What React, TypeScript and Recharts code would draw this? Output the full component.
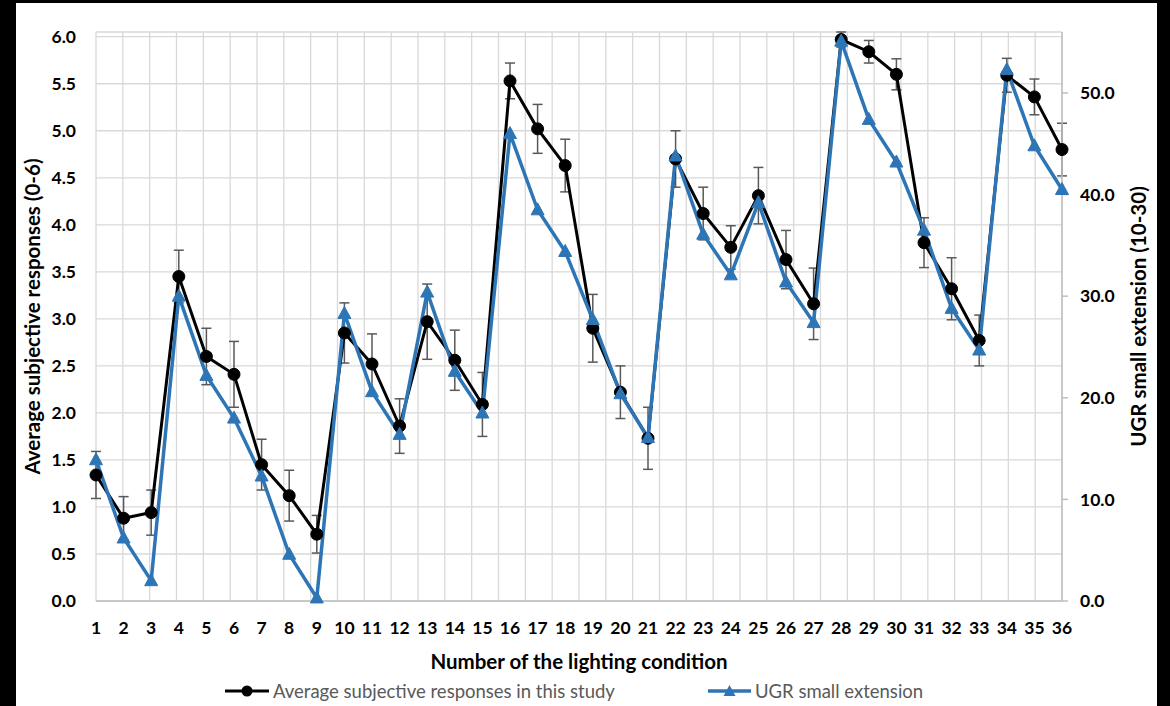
import React from "react";
import { ComposedChart, Line, XAxis, YAxis, CartesianGrid, ErrorBar, Legend } from "recharts";

// lighting conditions 1..36
const conditions = [
  "1", "2", "3", "4", "5", "6", "7", "8", "9", "10", "11", "12",
  "13", "14", "15", "16", "17", "18", "19", "20", "21", "22", "23", "24",
  "25", "26", "27", "28", "29", "30", "31", "32", "33", "34", "35", "36",
];
// average subjective responses (0-6), left axis
const subjective = [
  1.34, 0.88, 0.94, 3.45, 2.6, 2.41, 1.45, 1.12, 0.71, 2.85, 2.52, 1.86,
  2.97, 2.56, 2.09, 5.53, 5.02, 4.63, 2.9, 2.22, 1.73, 4.7, 4.12, 3.76,
  4.31, 3.63, 3.16, 5.97, 5.84, 5.6, 3.81, 3.32, 2.77, 5.59, 5.36, 4.8,
];
const subjectiveErr = [
  0.25, 0.23, 0.24, 0.28, 0.3, 0.35, 0.27, 0.27, 0.2, 0.32, 0.32, 0.29,
  0.4, 0.32, 0.34, 0.19, 0.26, 0.28, 0.36, 0.28, 0.33, 0.3, 0.28, 0.23,
  0.3, 0.31, 0.38, 0.08, 0.12, 0.165, 0.265, 0.33, 0.27, 0.18, 0.19, 0.28,
];
// UGR small extension, right axis
const ugrSmall = [
  13.9, 6.2, 2.0, 30.0, 22.2, 18.0, 12.3, 4.6, 0.3, 28.3, 20.6, 16.4,
  30.4, 22.6, 18.5, 46.0, 38.5, 34.4, 27.7, 20.4, 16.1, 43.8, 36.1, 32.1,
  39.2, 31.4, 27.4, 55.1, 47.4, 43.2, 36.5, 28.8, 24.7, 52.3, 44.8, 40.5,
];
const leftTicks = [0, 0.5, 1, 1.5, 2, 2.5, 3, 3.5, 4, 4.5, 5, 5.5, 6];
const rightTicks = [0, 10, 20, 30, 40, 50];

const data = conditions.map((c, i) => ({
  condition: c,
  subjective: subjective[i],
  err: subjectiveErr[i],
  ugr: ugrSmall[i],
}));

const FONT = "Lato, 'Open Sans', sans-serif";
const BLUE = "#2E75B6";
const tickStyle = { fontSize: 17.5, fontWeight: 700, fill: "#000", fontFamily: FONT };

const TriangleDot = (props: any) => {
  const { cx, cy, index } = props;
  if (cx == null || cy == null) return null;
  return (
    <polygon
      key={`tri-${index}`}
      points={`${cx},${cy - 7} ${cx - 6.5},${cy + 5} ${cx + 6.5},${cy + 5}`}
      fill={BLUE}
      stroke={BLUE}
      strokeWidth={1}
    />
  );
};

const vTitle = (text: string, dx: number) => (p: any) => {
  const vb = p.viewBox;
  const cx = vb.x + dx;
  const cy = vb.y + vb.height / 2;
  return (
    <text x={cx} y={cy} transform={`rotate(-90 ${cx} ${cy})`} textAnchor="middle" dominantBaseline="central"
      style={{ fontSize: 20.5, fontWeight: 700, fontFamily: FONT }} fill="#000">
      {text}
    </text>
  );
};

const xTitle = (p: any) => {
  const vb = p.viewBox;
  return (
    <text x={vb.x + vb.width / 2} y={vb.y + 60} textAnchor="middle" dominantBaseline="central"
      style={{ fontSize: 20.5, fontWeight: 700, fontFamily: FONT }} fill="#000">
      Number of the lighting condition
    </text>
  );
};

const renderLegend = () => (
  <div style={{ position: "relative", height: 20, fontFamily: FONT, fontSize: 18.5, color: "#595959" }}>
    <div style={{ position: "absolute", left: 209, top: 0, height: 20, display: "flex", alignItems: "center", whiteSpace: "nowrap" }}>
      <svg width={44} height={14}>
        <line x1={0} y1={7} x2={44} y2={7} stroke="#000" strokeWidth={3} />
        <circle cx={22} cy={7} r={5.5} fill="#000" />
      </svg>
      <span style={{ marginLeft: 4 }}>Average subjective responses in this study</span>
    </div>
    <div style={{ position: "absolute", left: 692, top: 0, height: 20, display: "flex", alignItems: "center", whiteSpace: "nowrap" }}>
      <svg width={43} height={14}>
        <line x1={0} y1={7} x2={43} y2={7} stroke={BLUE} strokeWidth={3.5} />
        <polygon points="21.5,1 15.5,12 27.5,12" fill={BLUE} />
      </svg>
      <span style={{ marginLeft: 4 }}>UGR small extension</span>
    </div>
  </div>
);

export default function App() {
  return (
    <div style={{ position: "absolute", left: 0, top: 0, width: 1170, height: 706, background: "#000" }}>
      <div style={{ position: "absolute", left: 16, top: 3, width: 1141, height: 703, background: "#fff" }}>
        <ComposedChart width={1141} height={703} data={data} margin={{ top: 29, right: 5, bottom: 5, left: 20 }}>
          <CartesianGrid
            yAxisId="left"
            stroke="#d9d9d9"
            strokeWidth={1.3}
            verticalCoordinatesGenerator={({ offset }: any) =>
              conditions.map((_, i) => offset.left + (i * offset.width) / conditions.length).concat(offset.left + offset.width)
            }
          />
          <XAxis
            dataKey="condition"
            interval={0}
            height={80}
            tickLine={false}
            tickSize={0}
            tickMargin={21}
            axisLine={{ stroke: "#bfbfbf", strokeWidth: 1.5 }}
            tick={tickStyle}
            label={xTitle}
          />
          <YAxis
            yAxisId="left"
            orientation="left"
            width={60}
            domain={[0, 6]}
            ticks={leftTicks}
            tickFormatter={(v: number) => v.toFixed(1)}
            axisLine={false}
            tickLine={false}
            tickSize={6}
            tickMargin={14}
            tick={tickStyle}
            label={vTitle("Average subjective responses (0-6)", -4)}
          />
          <YAxis
            yAxisId="right"
            orientation="right"
            width={90}
            domain={[0, 56]}
            ticks={rightTicks}
            tickFormatter={(v: number) => v.toFixed(1)}
            axisLine={{ stroke: "#bfbfbf", strokeWidth: 1.5 }}
            tickLine={{ stroke: "#bfbfbf", strokeWidth: 1.5 }}
            tickSize={6}
            tickMargin={12}
            tick={tickStyle}
            label={vTitle("UGR small extension (10-30)", 76)}
          />
          <Legend verticalAlign="bottom" content={renderLegend} wrapperStyle={{ left: 0, width: 1141, bottom: 5 }} />
          <Line
            yAxisId="left"
            dataKey="subjective"
            name="Average subjective responses in this study"
            stroke="#000"
            strokeWidth={3}
            dot={{ r: 6, fill: "#000", stroke: "#000", strokeWidth: 1 }}
            isAnimationActive={false}
          >
            <ErrorBar dataKey="err" direction="y" width={5} stroke="#595959" strokeWidth={1.5} isAnimationActive={false} />
          </Line>
          <Line
            yAxisId="right"
            dataKey="ugr"
            name="UGR small extension"
            stroke={BLUE}
            strokeWidth={3.5}
            dot={TriangleDot}
            isAnimationActive={false}
          />
        </ComposedChart>
      </div>
    </div>
  );
}
